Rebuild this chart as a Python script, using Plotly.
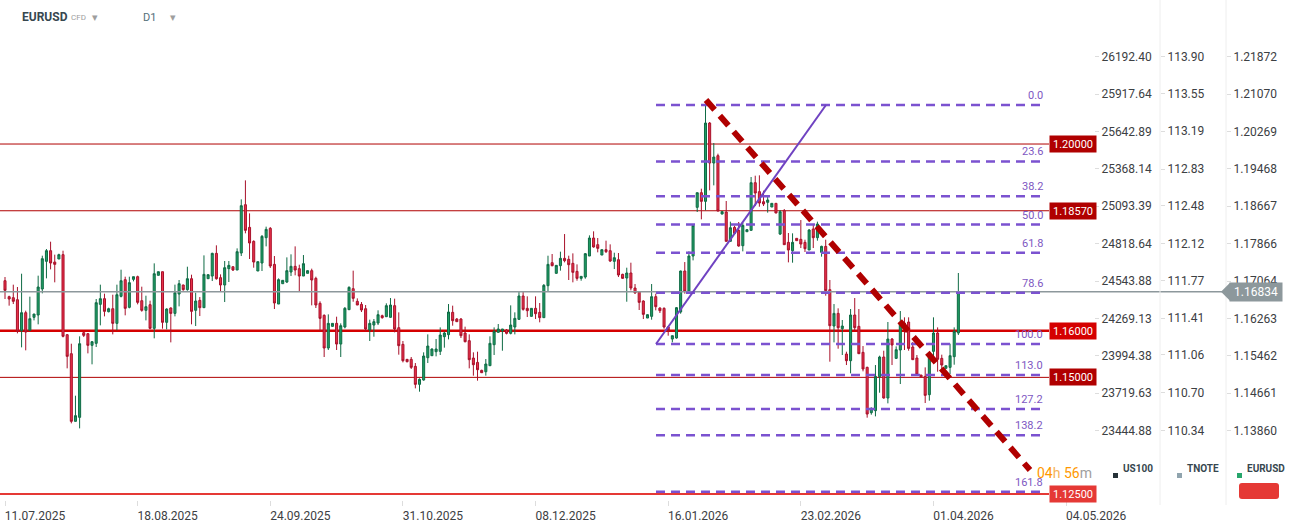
import plotly.graph_objects as go

# ─────────────────────────────────────────────
# DATA  (daily bars, index 0 = 11.07.2025)
# ─────────────────────────────────────────────
opens = [
    1.17071, 1.16729, 1.16707, 1.16664, 1.16000, 1.16386, 1.16007, 1.16286, 1.16336, 1.16893,
    1.17486, 1.17714, 1.17471, 1.17536, 1.17629, 1.15914, 1.15507, 1.14057, 1.14143, 1.15957,
    1.15936, 1.15686, 1.15729, 1.16564, 1.16686, 1.16407, 1.16471, 1.16157, 1.16736, 1.17093,
    1.16500, 1.17100, 1.17157, 1.16643, 1.16436, 1.16557, 1.16050, 1.17186, 1.17264, 1.16179,
    1.16486, 1.16371, 1.16786, 1.16979, 1.16879, 1.17114, 1.16436, 1.16650, 1.16493, 1.17114,
    1.17171, 1.17657, 1.17136, 1.16979, 1.17329, 1.17371, 1.17300, 1.17664, 1.18700, 1.18214,
    1.17914, 1.17279, 1.17450, 1.17993, 1.18193, 1.17421, 1.16571, 1.17007, 1.17043, 1.17257,
    1.17379, 1.17329, 1.17171, 1.17229, 1.17286, 1.17121, 1.16586, 1.16329, 1.15629, 1.16093,
    1.16157, 1.15714, 1.16079, 1.16450, 1.16900, 1.16629, 1.16564, 1.16471, 1.16014, 1.16121,
    1.16164, 1.16321, 1.16300, 1.16286, 1.16536, 1.16064, 1.15707, 1.15386, 1.15386, 1.15236,
    1.14850, 1.14943, 1.15421, 1.15464, 1.15550, 1.15557, 1.15871, 1.15914, 1.16393, 1.16250,
    1.16250, 1.15950, 1.15786, 1.15414, 1.15321, 1.15150, 1.15121, 1.15250, 1.15700, 1.15964,
    1.15993, 1.16014, 1.15943, 1.16079, 1.16243, 1.16743, 1.16479, 1.16307, 1.16479, 1.16393,
    1.16279, 1.16964, 1.17457, 1.17229, 1.17393, 1.17550, 1.17529, 1.17443, 1.17271, 1.17121,
    1.17150, 1.17600, 1.17986, 1.17843, 1.17621, 1.17736, 1.17714, 1.17486, 1.17521, 1.17207,
    1.17129, 1.17236, 1.16914, 1.16836, 1.16636, 1.16271, 1.16307, 1.16729, 1.16486, 1.16479,
    1.16079, 1.15821, 1.15843, 1.16400, 1.17279, 1.16843, 1.17600, 1.18643, 1.18957, 1.18771,
    1.20450, 1.19593, 1.19750, 1.18500, 1.18543, 1.17914, 1.18214, 1.18150, 1.17821, 1.18121,
    1.18150, 1.19171, 1.18979, 1.18764, 1.18750, 1.18650, 1.18729, 1.18071, 1.18571, 1.17893,
    1.17714, 1.17979, 1.17957, 1.17893, 1.17729, 1.18179, 1.17993, 1.17679, 1.17807, 1.16879,
    1.16100, 1.16371, 1.16043, 1.15500, 1.15357, 1.16336, 1.16093, 1.15536, 1.15214, 1.14243,
    1.14286, 1.15014, 1.15436, 1.14557, 1.15821, 1.15407, 1.15586, 1.16164, 1.16186, 1.15650,
    1.15414, 1.15050, 1.15021, 1.14629, 1.15557, 1.15950, 1.15407, 1.15193, 1.15214, 1.15443,
    1.15950,
]
highs = [
    1.17150, 1.16750, 1.16986, 1.16936, 1.17221, 1.16429, 1.16729, 1.16357, 1.17179, 1.17607,
    1.17750, 1.17907, 1.17629, 1.17650, 1.17714, 1.15929, 1.15721, 1.14607, 1.15879, 1.15971,
    1.15950, 1.15779, 1.16679, 1.16986, 1.16793, 1.16493, 1.16771, 1.16986, 1.17307, 1.17157,
    1.17157, 1.17157, 1.17179, 1.16943, 1.16750, 1.16643, 1.17443, 1.17264, 1.17264, 1.16479,
    1.16500, 1.16986, 1.17086, 1.16986, 1.17371, 1.17200, 1.16814, 1.16721, 1.17614, 1.17207,
    1.17671, 1.17829, 1.17207, 1.17493, 1.17493, 1.17371, 1.17764, 1.18814, 1.19221, 1.18514,
    1.17936, 1.17479, 1.18050, 1.18229, 1.18221, 1.17600, 1.17121, 1.17079, 1.17571, 1.17636,
    1.17807, 1.17414, 1.17621, 1.17293, 1.17329, 1.17157, 1.16629, 1.16350, 1.16350, 1.16157,
    1.16300, 1.16157, 1.16507, 1.16950, 1.17286, 1.16693, 1.16614, 1.16550, 1.16236, 1.16250,
    1.16436, 1.16343, 1.16586, 1.16700, 1.16686, 1.16393, 1.15779, 1.15393, 1.15436, 1.15307,
    1.14979, 1.15536, 1.15921, 1.15621, 1.15821, 1.16071, 1.15979, 1.16571, 1.16536, 1.16271,
    1.16271, 1.16086, 1.15921, 1.15536, 1.15550, 1.15164, 1.15393, 1.15879, 1.16071, 1.16143,
    1.16036, 1.16036, 1.16543, 1.16393, 1.16836, 1.16836, 1.16736, 1.16479, 1.16736, 1.16593,
    1.17000, 1.17607, 1.17643, 1.17407, 1.17693, 1.18071, 1.17607, 1.17657, 1.17421, 1.17164,
    1.17664, 1.18043, 1.18129, 1.17986, 1.17736, 1.17929, 1.17850, 1.17671, 1.17664, 1.17221,
    1.17350, 1.17457, 1.17000, 1.16836, 1.16650, 1.16350, 1.17000, 1.16793, 1.16500, 1.16500,
    1.16100, 1.15893, 1.16507, 1.17286, 1.17471, 1.17700, 1.18279, 1.18957, 1.19043, 1.20864,
    1.20471, 1.20021, 1.19793, 1.18564, 1.18779, 1.18336, 1.18250, 1.18329, 1.18314, 1.18179,
    1.19293, 1.19321, 1.19329, 1.19000, 1.18864, 1.18729, 1.18729, 1.18586, 1.18607, 1.18093,
    1.18086, 1.17979, 1.18371, 1.17950, 1.18179, 1.18286, 1.18336, 1.17821, 1.17950, 1.17086,
    1.16571, 1.16479, 1.16229, 1.15550, 1.16464, 1.16700, 1.16464, 1.15671, 1.15229, 1.14357,
    1.15264, 1.15464, 1.15571, 1.16186, 1.15843, 1.15664, 1.16421, 1.16286, 1.16286, 1.15757,
    1.15479, 1.15050, 1.15214, 1.15464, 1.16286, 1.16071, 1.15486, 1.15250, 1.15721, 1.16071,
    1.17236,
]
lows = [
    1.16679, 1.16536, 1.16571, 1.15943, 1.15643, 1.15579, 1.16000, 1.16221, 1.16136, 1.16800,
    1.17121, 1.17314, 1.17036, 1.17536, 1.15857, 1.15193, 1.14014, 1.14057, 1.13907, 1.15864,
    1.15514, 1.15279, 1.15650, 1.16114, 1.16307, 1.16393, 1.15921, 1.16007, 1.16714, 1.16329,
    1.16479, 1.17057, 1.16564, 1.16407, 1.16221, 1.16029, 1.15836, 1.17186, 1.16043, 1.16029,
    1.15750, 1.16307, 1.16521, 1.16857, 1.16857, 1.16136, 1.16100, 1.16314, 1.16486, 1.17114,
    1.17064, 1.17093, 1.16843, 1.16614, 1.17043, 1.17279, 1.17300, 1.17600, 1.18086, 1.17536,
    1.17350, 1.17279, 1.17279, 1.17807, 1.17343, 1.16464, 1.16571, 1.17007, 1.17021, 1.17171,
    1.17186, 1.16843, 1.17171, 1.17229, 1.16543, 1.16486, 1.15993, 1.15436, 1.15586, 1.16086,
    1.15586, 1.15436, 1.16050, 1.16443, 1.16621, 1.16550, 1.16400, 1.15986, 1.15779, 1.15871,
    1.16121, 1.16257, 1.16293, 1.16279, 1.15964, 1.15486, 1.15321, 1.15321, 1.15179, 1.14764,
    1.14693, 1.14929, 1.15307, 1.15464, 1.15450, 1.15479, 1.15636, 1.15814, 1.16107, 1.16193,
    1.15843, 1.15750, 1.15193, 1.15036, 1.14929, 1.15093, 1.15036, 1.15250, 1.15479, 1.15964,
    1.15571, 1.15921, 1.15921, 1.15921, 1.16236, 1.16429, 1.16293, 1.16307, 1.16250, 1.16179,
    1.16279, 1.16850, 1.17379, 1.17221, 1.17286, 1.17464, 1.17086, 1.17036, 1.17071, 1.17071,
    1.17114, 1.17600, 1.17779, 1.17679, 1.17621, 1.17664, 1.17471, 1.17321, 1.17150, 1.17114,
    1.16621, 1.16864, 1.16793, 1.16443, 1.16250, 1.16271, 1.16236, 1.16436, 1.16379, 1.16043,
    1.15893, 1.15750, 1.15829, 1.16364, 1.16793, 1.16793, 1.17507, 1.18543, 1.18386, 1.18579,
    1.19007, 1.19114, 1.18557, 1.18493, 1.17914, 1.17914, 1.18064, 1.17800, 1.17700, 1.18121,
    1.18150, 1.18671, 1.18657, 1.18671, 1.18529, 1.18650, 1.18521, 1.18050, 1.17843, 1.17464,
    1.17457, 1.17929, 1.17771, 1.17686, 1.17729, 1.17771, 1.17929, 1.17586, 1.16750, 1.15336,
    1.15750, 1.15614, 1.15479, 1.15264, 1.15086, 1.16000, 1.15500, 1.15129, 1.14136, 1.14200,
    1.14164, 1.14671, 1.14543, 1.14443, 1.15264, 1.15393, 1.14857, 1.15586, 1.15571, 1.15371,
    1.15036, 1.15007, 1.14450, 1.14500, 1.15343, 1.15121, 1.15143, 1.15193, 1.15071, 1.15271,
    1.15907,
]
closes = [
    1.16864, 1.16679, 1.16629, 1.15986, 1.16386, 1.15971, 1.16257, 1.16357, 1.16936, 1.17543,
    1.17714, 1.17450, 1.17421, 1.17629, 1.15879, 1.15450, 1.14057, 1.14179, 1.15721, 1.15900,
    1.15686, 1.15764, 1.16600, 1.16686, 1.16414, 1.16471, 1.16157, 1.16771, 1.17071, 1.16479,
    1.17029, 1.17157, 1.16607, 1.16436, 1.16514, 1.16050, 1.17221, 1.17264, 1.16179, 1.16464,
    1.16371, 1.16814, 1.17007, 1.16879, 1.17114, 1.16414, 1.16636, 1.16493, 1.17207, 1.17200,
    1.17657, 1.17114, 1.16979, 1.17350, 1.17400, 1.17300, 1.17693, 1.18679, 1.18150, 1.17879,
    1.17471, 1.17479, 1.18021, 1.18171, 1.17386, 1.16593, 1.17093, 1.17079, 1.17286, 1.17379,
    1.17300, 1.17171, 1.17436, 1.17286, 1.17086, 1.16550, 1.16264, 1.15629, 1.16157, 1.16157,
    1.15714, 1.16107, 1.16479, 1.16929, 1.16693, 1.16550, 1.16443, 1.16036, 1.16157, 1.16193,
    1.16343, 1.16279, 1.16536, 1.16550, 1.16036, 1.15679, 1.15357, 1.15336, 1.15214, 1.14850,
    1.14957, 1.15457, 1.15671, 1.15607, 1.15607, 1.15907, 1.15950, 1.16400, 1.16214, 1.16193,
    1.15893, 1.15764, 1.15379, 1.15271, 1.15164, 1.15100, 1.15286, 1.15729, 1.15986, 1.16036,
    1.16036, 1.15943, 1.16121, 1.16264, 1.16743, 1.16457, 1.16429, 1.16479, 1.16364, 1.16279,
    1.16971, 1.17421, 1.17393, 1.17400, 1.17550, 1.17500, 1.17414, 1.17250, 1.17121, 1.17164,
    1.17650, 1.17986, 1.17793, 1.17764, 1.17736, 1.17693, 1.17493, 1.17564, 1.17193, 1.17121,
    1.17236, 1.16914, 1.16807, 1.16607, 1.16350, 1.16343, 1.16729, 1.16514, 1.16429, 1.16079,
    1.16007, 1.15893, 1.16493, 1.17279, 1.16843, 1.17600, 1.18257, 1.18957, 1.18771, 1.20450,
    1.19593, 1.19721, 1.18564, 1.18550, 1.17914, 1.18207, 1.18086, 1.17814, 1.18257, 1.18164,
    1.19171, 1.18950, 1.18736, 1.18714, 1.18800, 1.18729, 1.18521, 1.18550, 1.17843, 1.17729,
    1.17893, 1.17929, 1.17857, 1.17757, 1.18157, 1.17993, 1.18286, 1.17807, 1.16857, 1.16107,
    1.16371, 1.16064, 1.16100, 1.15357, 1.16336, 1.16064, 1.15507, 1.15179, 1.14214, 1.14336,
    1.15021, 1.15436, 1.14557, 1.15821, 1.15693, 1.15593, 1.16164, 1.16071, 1.15621, 1.15379,
    1.15064, 1.15007, 1.14614, 1.15450, 1.15950, 1.15386, 1.15264, 1.15250, 1.15464, 1.15986,
    1.16834,
]

date_ticks = [0, 32, 64, 96, 128, 160, 192, 224, 256]
date_labels = ["11.07.2025", "18.08.2025", "24.09.2025", "31.10.2025", "08.12.2025",
               "16.01.2026", "23.02.2026", "01.04.2026", "04.05.2026"]

eur_ticks = [1.21872, 1.21070, 1.20269, 1.19468, 1.18667, 1.17866,
             1.17064, 1.16263, 1.15462, 1.14661, 1.13860]
tnote_ticks = [113.90, 113.55, 113.19, 112.83, 112.48, 112.12,
               111.77, 111.41, 111.06, 110.70, 110.34]
us100_ticks = [26192.40, 25917.64, 25642.89, 25368.14, 25093.39, 24818.64,
               24543.88, 24269.13, 23994.38, 23719.63, 23444.88]

levels = [1.20000, 1.18570, 1.16000, 1.15000, 1.12500]
level_colors = ["#b00000", "#b00000", "#d50000", "#b00000", "#e53935"]
level_widths = [1, 1, 2.5, 1, 2]

fib_high = 1.20836
fib_low = 1.15715
fib_levels = [0.0, 23.6, 38.2, 50.0, 61.8, 78.6, 100.0, 113.0, 127.2, 138.2, 161.8]

last_price = 1.16834

# ─────────────────────────────────────────────
# GEOMETRY
# ─────────────────────────────────────────────
W, H = 1294, 531
PLOT_H = 500
BAR_W = 4.145      # px per bar
X0_PX = 5          # px of bar 0
Y0, Y1 = 1.12372, 1.23086

FONT = "Roboto, Arial, sans-serif"
TXT = "#3c4043"


def px(x):
    return x / W


def py(y):
    return (PLOT_H - y) / PLOT_H


def bar_at(xpx):
    return (xpx - X0_PX) / BAR_W


def yfrac(p):
    return (p - Y0) / (Y1 - Y0)


def mapped_range(ticks):
    # secondary scale aligned with the EURUSD scale through first/last tick
    k = (ticks[0] - ticks[-1]) / (eur_ticks[0] - eur_ticks[-1])
    return [ticks[-1] + (Y0 - eur_ticks[-1]) * k, ticks[-1] + (Y1 - eur_ticks[-1]) * k]


fig = go.Figure()

fig.add_trace(go.Candlestick(
    x=list(range(len(opens))), open=opens, high=highs, low=lows, close=closes,
    increasing=dict(line=dict(color="#0f6b45", width=1), fillcolor="#1f9d64"),
    decreasing=dict(line=dict(color="#a8112a", width=1), fillcolor="#e8314a"),
    whiskerwidth=0, showlegend=False, hoverinfo="skip",
))
# anchor traces so the extra price scales get drawn
fig.add_trace(go.Scatter(x=[-50], y=[tnote_ticks[-1]], yaxis="y2", mode="markers",
                         marker=dict(opacity=0), showlegend=False, hoverinfo="skip"))
fig.add_trace(go.Scatter(x=[-50], y=[us100_ticks[-1]], yaxis="y3", mode="markers",
                         marker=dict(opacity=0), showlegend=False, hoverinfo="skip"))

shapes = []
annotations = []

# horizontal levels
for lv, col, lw in zip(levels, level_colors, level_widths):
    shapes.append(dict(type="line", xref="paper", yref="y", x0=0, x1=px(1049), y0=lv, y1=lv,
                       line=dict(color=col, width=lw), layer="below"))

# current price line
shapes.append(dict(type="line", xref="paper", yref="y", x0=0, x1=px(1222),
                   y0=last_price, y1=last_price, line=dict(color="#8d989c", width=1.5)))

# fibonacci retracement
fib_span = fib_high - fib_low
for lvl in fib_levels:
    p = fib_high - lvl / 100 * fib_span
    shapes.append(dict(type="line", xref="x", yref="y", x0=bar_at(656), x1=bar_at(1045), y0=p, y1=p,
                       line=dict(color="#7b52d0", width=2.5, dash="9px,6px")))
    annotations.append(dict(xref="paper", yref="y", x=px(1045), y=p, xanchor="right", yanchor="bottom",
                            yshift=1, text=f"{lvl:.1f}", showarrow=False,
                            font=dict(family=FONT, size=11, color="#7e57c2")))

# fib anchor line and dashed downtrend
shapes.append(dict(type="line", xref="x", yref="y", x0=bar_at(656), y0=fib_low, x1=bar_at(826), y1=fib_high,
                   line=dict(color="#6f42c1", width=2)))
shapes.append(dict(type="line", xref="x", yref="y", x0=bar_at(706), y0=1.20943, x1=bar_at(1030), y1=1.13015,
                   line=dict(color="#b00000", width=6, dash="13px,8px")))

# separators between price scales
for sx in (1160, 1226):
    shapes.append(dict(type="line", xref="paper", yref="paper", x0=px(sx), x1=px(sx), y0=py(505), y1=1,
                       line=dict(color="#eeeeee", width=1)))

# level price boxes
for lv, col in zip(levels, level_colors):
    annotations.append(dict(xref="paper", yref="paper", x=px(1049), y=yfrac(lv), xanchor="left",
                            yanchor="middle", text=f"{lv:.5f}", showarrow=False, bgcolor=col,
                            width=44, height=14, borderpad=1,
                            font=dict(family=FONT, size=11, color="white")))

# bar countdown
annotations.append(dict(xref="paper", yref="paper", x=px(1094), y=py(483), xanchor="right", showarrow=False,
                        text="<span style='color:#ff9800'>04</span><span style='color:#f5b35a'>h</span> "
                             "<span style='color:#ff9800'>56</span><span style='color:#9e9e9e'>m</span>",
                        font=dict(family=FONT, size=14)))

# last price tag
yc = yfrac(last_price)
shapes.append(dict(type="path", xref="paper", yref="paper",
                   path=f"M {px(1221)},{yc} L {px(1230)},{yc + 9 / PLOT_H} L {px(1230)},{yc - 9 / PLOT_H} Z",
                   fillcolor="#8d989c", line=dict(width=0)))
annotations.append(dict(xref="paper", yref="paper", x=px(1229), y=yc, xanchor="left", yanchor="middle",
                        text=f"{last_price:.5f}", showarrow=False, bgcolor="#8d989c",
                        width=50, height=16, borderpad=1,
                        font=dict(family=FONT, size=12, color="white")))

# scale legend
for sx, name, col in ((1113, "US100", "#263238"), (1177, "TNOTE", "#90a4ae"), (1237, "EURUSD", "#26a66b")):
    shapes.append(dict(type="rect", xref="paper", yref="paper", x0=px(sx), x1=px(sx + 5),
                       y0=py(478), y1=py(473), fillcolor=col, line=dict(width=0)))
    annotations.append(dict(xref="paper", yref="paper", x=px(sx + 8), y=py(476), xanchor="left",
                            text=f"<b>{name}</b>", showarrow=False,
                            font=dict(family=FONT, size=10, color="#37474f")))
shapes.append(dict(type="path", xref="paper", yref="paper",
                   path=(f"M {px(1242)},{py(483)} L {px(1276)},{py(483)} Q {px(1279)},{py(483)} {px(1279)},{py(486)} "
                         f"L {px(1279)},{py(496)} Q {px(1279)},{py(499)} {px(1276)},{py(499)} "
                         f"L {px(1242)},{py(499)} Q {px(1239)},{py(499)} {px(1239)},{py(496)} "
                         f"L {px(1239)},{py(486)} Q {px(1239)},{py(483)} {px(1242)},{py(483)} Z"),
                   fillcolor="#e53935", line=dict(width=0)))

# header
header = [
    (20, "<b>EURUSD</b>", 12, "#37474f"),
    (69, "CFD", 8, "#9e9e9e"),
    (90, "▾", 11, "#9e9e9e"),
    (141, "D1", 11, "#546e7a"),
    (168, "▾", 11, "#9e9e9e"),
]
for hx, t, fs, col in header:
    annotations.append(dict(xref="paper", yref="paper", x=px(hx), y=py(17), xanchor="left",
                            yanchor="middle", text=t, showarrow=False,
                            font=dict(family=FONT, size=fs, color=col)))

fig.update_layout(
    width=W, height=H, autosize=False,
    margin=dict(l=0, r=0, t=0, b=H - PLOT_H, autoexpand=False),
    paper_bgcolor="white", plot_bgcolor="white",
    font=dict(family=FONT, color=TXT),
    showlegend=False,
    xaxis=dict(
        domain=[0, px(1094)], range=[bar_at(0), bar_at(1094)],
        showgrid=False, zeroline=False, showline=False, automargin=False,
        tickvals=date_ticks, ticktext=date_labels, ticks="outside", ticklen=5, tickcolor="#dddddd",
        tickfont=dict(family=FONT, size=12, color=TXT), ticklabelshift=30,
        rangeslider=dict(visible=False),
    ),
    yaxis=dict(
        range=[Y0, Y1], anchor="free", position=px(1226), side="right", automargin=False,
        showgrid=False, zeroline=False, showline=False,
        tickvals=eur_ticks, ticktext=[f"{v:.5f}" for v in eur_ticks],
        ticks="outside", ticklen=4, tickcolor="#dddddd",
        tickfont=dict(family=FONT, size=12, color=TXT),
    ),
    yaxis2=dict(
        range=mapped_range(tnote_ticks), overlaying="y", anchor="free", position=px(1160), side="right",
        showgrid=False, zeroline=False, showline=False, automargin=False,
        tickvals=tnote_ticks, ticktext=[f"{v:.2f}" for v in tnote_ticks],
        ticks="outside", ticklen=4, tickcolor="#dddddd",
        tickfont=dict(family=FONT, size=12, color=TXT),
    ),
    yaxis3=dict(
        range=mapped_range(us100_ticks), overlaying="y", anchor="free", position=px(1094), side="right",
        showgrid=False, zeroline=False, showline=False, automargin=False,
        tickvals=us100_ticks, ticktext=[f"{v:.2f}" for v in us100_ticks],
        ticks="outside", ticklen=4, tickcolor="#dddddd",
        tickfont=dict(family=FONT, size=12, color=TXT),
    ),
    shapes=shapes,
    annotations=annotations,
)

fig.write_html(
    "out.html",
    config={"responsive": False, "displayModeBar": False},
    post_script="document.body.style.margin='0';document.body.style.overflow='hidden';",
)
